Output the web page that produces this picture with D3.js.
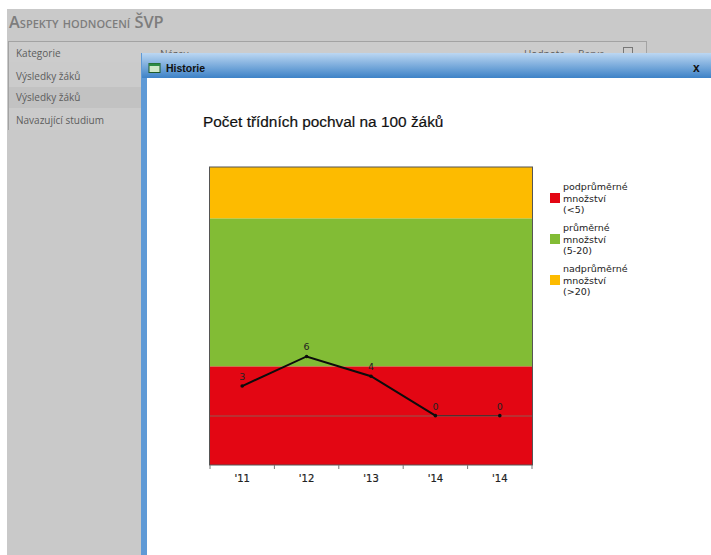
<!DOCTYPE html>
<html>

<head>
    <meta charset="utf-8">
    <style>
        html, body {
            margin: 0;
            padding: 0;
            background: white;
        }

        svg {
            display: block;
        }

        .ui {
            font-family: 'Open Sans', sans-serif;
            font-size: 10px;
            fill: #5d5d5d;
        }

        .heading {
            font-family: 'Open Sans', sans-serif;
            font-size: 16.4px;
            font-weight: 600;
            font-variant: small-caps;
            fill: #7d7d7d;
        }

        .chart-title {
            font-family: 'Liberation Sans', Arial, sans-serif;
            font-size: 15.4px;
            fill: #111;
            stroke: #111;
            stroke-width: .2;
        }

        .legend-text, .value-label, .x-axis text {
            font-family: 'DejaVu Sans', Verdana, sans-serif;
            font-size: 9.5px;
            fill: #222;
        }

        .x-axis text {
            font-size: 10px;
            stroke: #222;
            stroke-width: .2;
        }
    </style>
</head>

<body>
    <svg width="711" height="555"></svg>

    <script src="https://d3js.org/d3.v7.min.js"></script>

    <script>
        let years = ["'11", "'12", "'13", "'14", "'14"]
        let counts = [3, 6, 4, 0, 0]

        let bandNames = ["podprůměrné", "průměrné", "nadprůměrné"]
        let bandRanges = ["(<5)", "(5-20)", "(>20)"]
        let bandFrom = [-5, 5, 20]
        let bandTo = [5, 20, 25.2]
        let bandColors = ["#e30613", "#82bc35", "#fdbb00"]

        let tableRows = ["Výsledky žáků", "Výsledky žáků", "Navazující studium"]
        let tableHeads = ["Kategorie", "Název", "Hodnota", "Barva"]

        let svg = d3.select("svg")

        // gradient for the dialog title bar
        let grad = svg.append("defs").append("linearGradient")
            .attr("id", "titlebar")
            .attr("x1", 0).attr("x2", 0).attr("y1", 0).attr("y2", 1)
        grad.append("stop").attr("offset", "0%").attr("stop-color", "#bcd7f2")
        grad.append("stop").attr("offset", "100%").attr("stop-color", "#3d82c7")

        // page behind the dialog
        svg.append("rect").attr("x", 7).attr("y", 9).attr("width", 704).attr("height", 546).style("fill", "#c9c9c9")
        svg.append("text").attr("class", "heading").attr("x", 9).attr("y", 28).text("Aspekty hodnocení ŠVP")

        svg.append("rect").attr("x", 8.5).attr("y", 41.5).attr("width", 638).attr("height", 21)
            .style("fill", "#cccccc").style("stroke", "#a3a3a3")

        let rowTops = [62, 87, 108]
        let rowHeights = [25, 21, 22]
        let rowBase = [80, 101, 124]
        tableRows.forEach((row, i) => {
            svg.append("rect").attr("x", 9).attr("y", rowTops[i]).attr("width", 133).attr("height", rowHeights[i])
                .style("fill", i == 1 ? "#c2c2c2" : "#cbcbcb")
            svg.append("text").attr("class", "ui").attr("x", 16).attr("y", rowBase[i]).text(row)
        })
        svg.append("line").attr("x1", 8.5).attr("x2", 8.5).attr("y1", 41).attr("y2", 130).style("stroke", "#a3a3a3")

        // only Kategorie is fully visible, the others get cut by the dialog
        let headX = [16, 160, 524, 578]
        tableHeads.forEach((head, i) => {
            svg.append("text").attr("class", "ui").attr("x", headX[i]).attr("y", i == 0 ? 57 : 58).text(head)
        })
        svg.append("rect").attr("x", 623.5).attr("y", 47.5).attr("width", 9).attr("height", 9)
            .style("fill", "none").style("stroke", "#777")

        // dialog
        svg.append("rect").attr("x", 141).attr("y", 53).attr("width", 570).attr("height", 502).style("fill", "#5f9ad6")
        svg.append("rect").attr("x", 142).attr("y", 53).attr("width", 569).attr("height", 25).style("fill", "url(#titlebar)")
        svg.append("rect").attr("x", 147).attr("y", 78).attr("width", 564).attr("height", 477).style("fill", "white")

        svg.append("rect").attr("x", 149).attr("y", 63.5).attr("width", 11).attr("height", 9)
            .style("fill", "#cfe8c8").style("stroke", "#1f5a2a")
        svg.append("rect").attr("x", 149).attr("y", 63.5).attr("width", 11).attr("height", 2.5).style("fill", "#2e8b45")
        svg.append("text").attr("x", 166).attr("y", 72)
            .style("font-family", "'Liberation Sans', sans-serif").style("font-size", "10.5px").style("font-weight", "bold")
            .style("fill", "#111").text("Historie")
        svg.append("text").attr("x", 693).attr("y", 72)
            .style("font-family", "'Liberation Sans', sans-serif").style("font-size", "12px").style("font-weight", "bold")
            .style("fill", "#111").text("x")

        svg.append("text").attr("class", "chart-title").attr("x", 203).attr("y", 127).text("Počet třídních pochval na 100 žáků")

        // the chart
        let x = d3.scaleBand()
            .domain(d3.range(years.length))
            .range([210, 532])

        let y = d3.scaleLinear()
            .domain([-5, 25.2])
            .range([465, 167])

        svg.selectAll(".band")
            .data(bandNames)
            .join("rect")
            .attr("class", "band")
            .attr("x", 210)
            .attr("width", 322)
            .attr("y", (d, i) => y(bandTo[i]))
            .attr("height", (d, i) => y(bandFrom[i]) - y(bandTo[i]))
            .style("fill", (d, i) => bandColors[i])

        svg.append("rect").attr("x", 209.5).attr("y", 167).attr("width", 323).attr("height", 298)
            .style("fill", "none").style("stroke", "#555")

        // zero line
        svg.append("line")
            .attr("x1", 210).attr("x2", 532)
            .attr("y1", Math.round(y(0))).attr("y2", Math.round(y(0)))
            .style("stroke", "#8f5a52")
            .style("stroke-width", 1.2)

        let xAxis = d3.axisBottom(x)
            .tickFormat(i => years[i])
            .tickSize(0)
            .tickPadding(10)

        svg.append("g")
            .attr("class", "x-axis")
            .attr("transform", "translate(0,465)")
            .call(xAxis)
            .call(g => g.select(".domain").remove())

        // tick marks sit between the categories
        svg.selectAll(".tick-mark")
            .data(d3.range(years.length + 1))
            .join("line")
            .attr("class", "tick-mark")
            .attr("x1", i => i < years.length ? x(i) : x(i - 1) + x.bandwidth())
            .attr("x2", i => i < years.length ? x(i) : x(i - 1) + x.bandwidth())
            .attr("y1", 465)
            .attr("y2", 469)
            .style("stroke", "#777")

        let line = d3.line()
            .x((d, i) => x(i) + x.bandwidth() / 2)
            .y(d => y(d))

        svg.append("path")
            .attr("d", line(counts.slice(0, 4)))
            .style("fill", "none")
            .style("stroke", "#0c0c0c")
            .style("stroke-width", 2)

        // last segment is much thinner in the original
        svg.append("line")
            .attr("x1", x(3) + x.bandwidth() / 2)
            .attr("x2", x(4) + x.bandwidth() / 2)
            .attr("y1", y(counts[3]))
            .attr("y2", y(counts[4]))
            .style("stroke", "#40302f")
            .style("stroke-width", 1)

        svg.selectAll(".point")
            .data(counts)
            .join("circle")
            .attr("class", "point")
            .attr("cx", (d, i) => x(i) + x.bandwidth() / 2)
            .attr("cy", d => y(d))
            .attr("r", 1.8)
            .style("fill", "#0c0c0c")

        svg.selectAll(".value-label")
            .data(counts)
            .join("text")
            .attr("class", "value-label")
            .attr("x", (d, i) => x(i) + x.bandwidth() / 2)
            .attr("y", d => y(d) - 6)
            .attr("text-anchor", "middle")
            .text(d => d)

        // legend
        let legendTop = [181, 222, 263]
        bandNames.forEach((name, i) => {
            let g = svg.append("g").attr("transform", "translate(550," + legendTop[i] + ")")
            g.append("rect").attr("y", 12).attr("width", 10).attr("height", 10).style("fill", bandColors[i])
            let lines = [name, "množství", bandRanges[i]]
            g.selectAll("text")
                .data(lines)
                .join("text")
                .attr("class", "legend-text")
                .attr("x", 13)
                .attr("y", (d, j) => 9 + j * 11.5)
                .text(d => d)
        })
    </script>
</body>

</html>
